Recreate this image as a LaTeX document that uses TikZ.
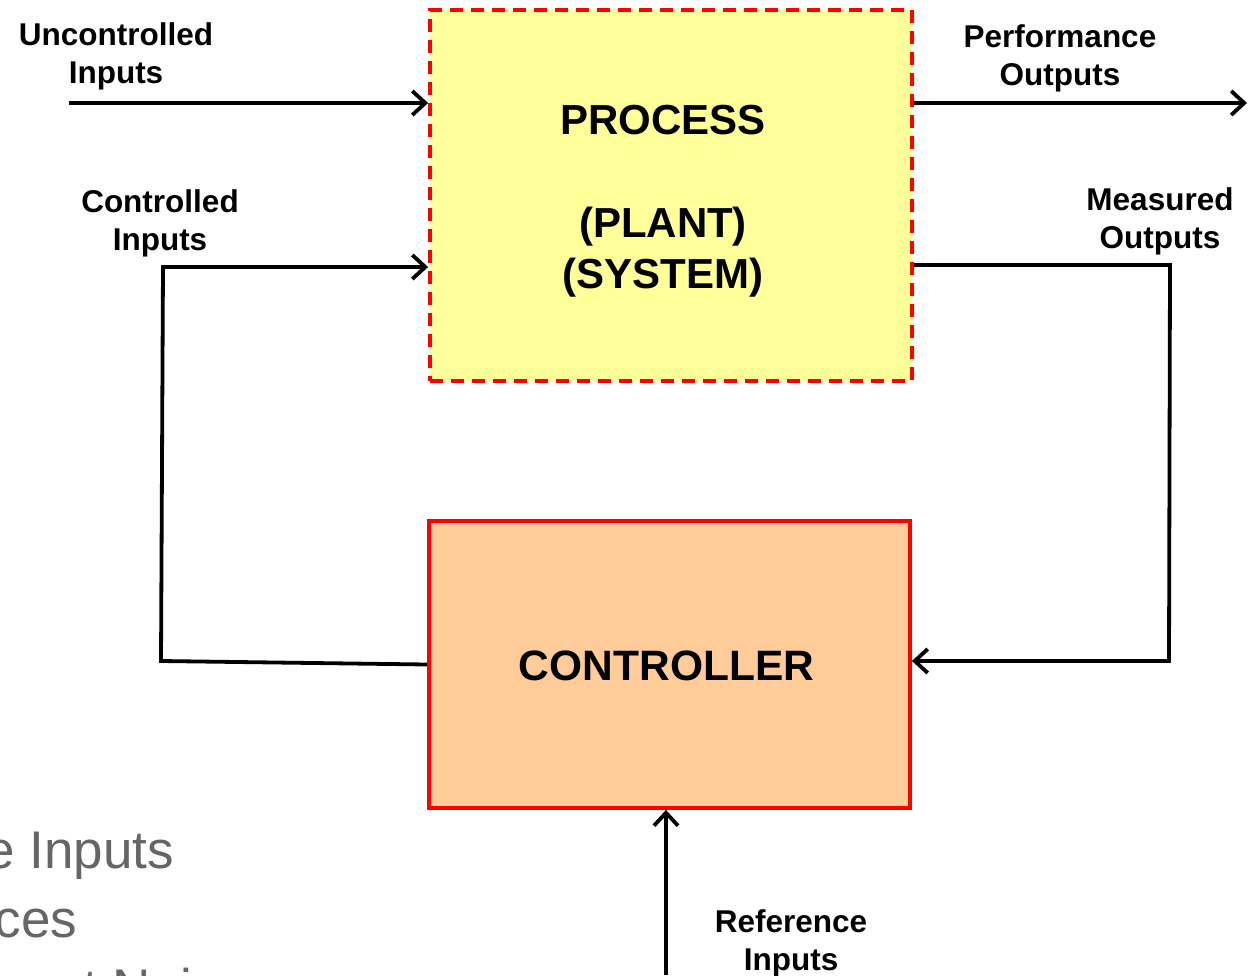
\documentclass[tikz,border=0pt]{standalone}
\usepackage{fontspec}
\setmainfont{Liberation Sans}
\usetikzlibrary{arrows.meta}
\definecolor{procfill}{HTML}{FFFF99}
\definecolor{ctrlfill}{HTML}{FFCC99}
\definecolor{boxred}{HTML}{FF0000}
\definecolor{graytxt}{HTML}{666666}
\tikzset{
  lbl/.style={anchor=north, inner sep=0pt, align=center, font=\bfseries\fontsize{31.5}{38}\selectfont},
  conn/.style={line width=3.8pt, line join=miter},
  arr/.style={conn, -{Straight Barb[length=13pt,width=24pt,line width=3.8pt]}},
  procbox/.style={draw=boxred, fill=procfill, line width=3.8pt, dash pattern=on 13pt off 8pt,
    minimum width=482pt, minimum height=371pt, inner sep=0pt},
  bigtxt/.style={anchor=north, inner sep=0pt, align=center, font=\bfseries\fontsize{42}{51.5}\selectfont},
  ctrlbox/.style={draw=boxred, fill=ctrlfill, line width=3.8pt,
    minimum width=481pt, minimum height=287pt, inner sep=0pt},
  bgtxt/.style={anchor=base west, inner sep=0pt, text=graytxt, font=\fontsize{53}{60}\selectfont}
}
\begin{document}
\begin{tikzpicture}[x=1pt,y=-1pt]
\useasboundingbox (0,0) rectangle (1248,975);
\clip (0,0) rectangle (1248,975);
\fill[white] (0,0) rectangle (1248,975);

% background slide text (cut off)
\node[bgtxt] (bg1) at (-15,868) {e Inputs};
\node[bgtxt] (bg2) at (-5.5,937) {ces};
\node[bgtxt] (bg3) at (24,1006) {ent Noise};

% boxes
\node[procbox] (process) at (671,195.5) {};
\node[bigtxt] (proctext) at (663,104.5) {PROCESS\\ \\(PLANT)\\(SYSTEM)};
\node[ctrlbox] (controller) at (669.5,664.5) {};
\node[bigtxt, anchor=base, font=\bfseries\fontsize{42.5}{50}\selectfont] (ctrltext) at (666.5,680) {CONTROLLER};

% coordinates
\coordinate (uin) at (69,103);
\coordinate (pout) at (1247,103);
\coordinate (m1) at (1170,265);
\coordinate (m2) at (1169,661);
\coordinate (c1) at (161,661);
\coordinate (c2) at (163,267);
\coordinate (ref) at (666,975);

% connectors
\draw[arr] (uin) -- (process.west |- uin);
\draw[arr] (process.east |- pout) -- (pout);
\draw[arr] (process.east |- m1) -- (m1) -- (m2) -- (controller.east |- m2);
\draw[arr] (controller.west) -- (c1) -- (c2) -- (process.west |- c2);
\draw[arr] (ref) -- (controller.south -| ref);

% labels
\node[lbl] (lunc) at (116,22.3) {Uncontrolled\\Inputs};
\node[lbl] (lcon) at (160,189.3) {Controlled\\Inputs};
\node[lbl] (lperf) at (1060,24.3) {Performance\\Outputs};
\node[lbl] (lmeas) at (1160,187.3) {Measured\\Outputs};
\node[lbl] (lref) at (791,909.3) {Reference\\Inputs};
\end{tikzpicture}
\end{document}
